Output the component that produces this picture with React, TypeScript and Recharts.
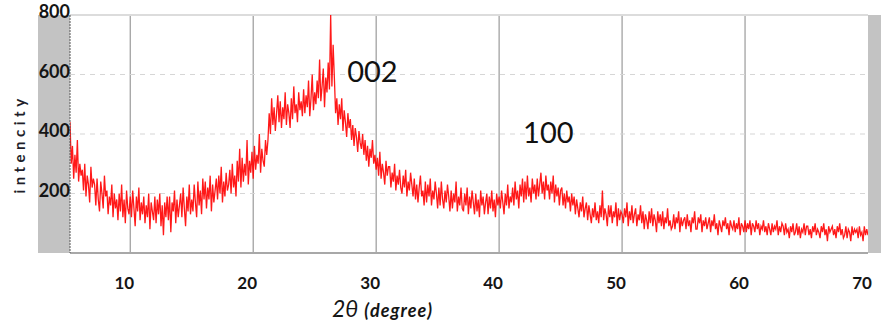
import React from 'react';
import { LineChart, Line, XAxis, YAxis, CartesianGrid, ReferenceDot } from 'recharts';

// scan starts at 5.1 deg, one reading every 0.1 deg, up to 70.0
const startAngle = 5.1;
const angleStep = 0.1;

// counts, one row per degree (d.1 … d+1.0)
const intensity = [
  440, 300, 360, 250, 330, 270, 380, 240, 300, 260, // 5
  280, 210, 300, 190, 260, 230, 170, 290, 220, 250, // 6
  230, 160, 250, 180, 140, 240, 200, 150, 260, 190, // 7
  210, 130, 190, 160, 230, 120, 200, 150, 180, 110, // 8
  200, 140, 230, 120, 180, 100, 210, 150, 130, 190, // 9
  120, 210, 150, 90, 190, 140, 220, 110, 170, 130, // 10
  190, 100, 160, 120, 200, 80, 170, 140, 110, 190, // 11
  100, 180, 130, 200, 90, 160, 60, 170, 120, 190, // 12
  110, 190, 70, 170, 140, 210, 100, 180, 120, 160, // 13
  200, 120, 220, 150, 90, 190, 140, 230, 130, 180, // 14
  140, 230, 170, 120, 240, 160, 210, 130, 250, 180, // 15
  240, 150, 220, 180, 260, 140, 230, 170, 210, 250, // 16
  180, 260, 200, 290, 170, 240, 190, 270, 210, 230, // 17
  280, 200, 300, 220, 260, 190, 310, 240, 350, 220, // 18
  320, 240, 300, 260, 380, 230, 310, 270, 340, 250, // 19
  360, 280, 330, 300, 400, 270, 350, 310, 290, 380, // 20
  330, 380, 470, 400, 520, 430, 490, 410, 470, 530, // 21
  440, 510, 420, 490, 450, 540, 430, 500, 470, 420, // 22
  520, 450, 560, 470, 500, 440, 540, 480, 510, 460, // 23
  550, 470, 530, 490, 580, 460, 520, 600, 480, 540, // 24
  500, 580, 520, 650, 510, 560, 620, 490, 590, 540, // 25
  640, 550, 800, 560, 700, 590, 470, 520, 430, 500, // 26
  450, 520, 410, 480, 440, 390, 470, 420, 450, 380, // 27
  430, 360, 420, 390, 340, 410, 370, 350, 400, 330, // 28
  380, 310, 360, 290, 350, 320, 380, 300, 330, 280, // 29
  320, 260, 340, 250, 300, 270, 230, 310, 260, 290, // 30
  290, 220, 270, 240, 300, 210, 260, 230, 280, 220, // 31
  200, 260, 220, 280, 190, 240, 210, 270, 230, 190, // 32
  250, 180, 230, 170, 220, 260, 190, 210, 160, 240, // 33
  170, 230, 190, 250, 160, 210, 180, 240, 200, 150, // 34
  220, 160, 240, 180, 150, 210, 170, 230, 190, 140, // 35
  210, 150, 200, 170, 240, 140, 190, 160, 220, 150, // 36
  140, 200, 160, 220, 130, 190, 150, 210, 170, 130, // 37
  200, 140, 180, 120, 210, 160, 190, 130, 170, 200, // 38
  130, 190, 150, 210, 140, 180, 120, 200, 160, 190, // 39
  150, 210, 170, 130, 200, 160, 230, 150, 190, 170, // 40
  220, 160, 240, 180, 210, 150, 230, 190, 250, 170, // 41
  240, 180, 260, 190, 220, 170, 250, 200, 230, 180, // 42
  250, 190, 230, 270, 200, 240, 180, 260, 210, 230, // 43
  180, 240, 200, 260, 170, 230, 190, 220, 160, 210, // 44
  220, 160, 200, 150, 210, 170, 190, 140, 200, 160, // 45
  190, 130, 180, 150, 120, 170, 140, 190, 120, 150, // 46
  170, 110, 160, 130, 100, 150, 120, 170, 110, 140, // 47
  100, 160, 120, 210, 110, 150, 130, 90, 160, 120, // 48
  160, 100, 140, 120, 170, 90, 150, 110, 140, 130, // 49
  100, 150, 120, 170, 90, 140, 110, 160, 100, 130, // 50
  150, 90, 130, 110, 160, 100, 140, 80, 130, 110, // 51
  80, 140, 100, 150, 90, 130, 110, 70, 140, 100, // 52
  130, 90, 140, 80, 120, 100, 150, 90, 110, 80, // 53
  90, 130, 80, 120, 100, 140, 70, 120, 90, 110, // 54
  120, 80, 130, 90, 110, 70, 120, 100, 140, 80, // 55
  80, 120, 100, 130, 70, 110, 90, 120, 80, 100, // 56
  120, 70, 110, 90, 130, 80, 100, 60, 110, 90, // 57
  70, 110, 90, 120, 80, 100, 60, 110, 90, 80, // 58
  110, 70, 100, 80, 120, 60, 100, 90, 70, 110, // 59
  70, 100, 80, 110, 60, 100, 90, 70, 110, 80, // 60
  100, 60, 90, 80, 110, 70, 90, 60, 100, 80, // 61
  60, 100, 70, 90, 80, 110, 60, 90, 70, 100, // 62
  90, 60, 100, 70, 80, 50, 90, 70, 100, 60, // 63
  70, 100, 60, 90, 50, 80, 70, 100, 60, 90, // 64
  90, 60, 80, 50, 90, 70, 100, 60, 80, 70, // 65
  50, 90, 70, 100, 60, 80, 40, 90, 70, 80, // 66
  90, 60, 80, 50, 90, 70, 100, 60, 80, 50, // 67
  60, 90, 50, 80, 70, 40, 90, 60, 80, 70, // 68
  80, 50, 90, 60, 70, 40, 90, 60, 80, 60, // 69
];

const xTicks = [10, 20, 30, 40, 50, 60, 70];
const yTicks = [200, 400, 600, 800];
const peakNames = ['002', '100'];
const peakAngles = [29.7, 44.0];
const peakHeights = [610, 405];

const scan = intensity.map((v, i) => ({
  angle: +(startAngle + i * angleStep).toFixed(1),
  counts: v,
}));

const FONT = 'Lato, "Open Sans", sans-serif';

const XTick = ({ x, y, payload }: any) => (
  <text x={x - 6} y={y + 28} textAnchor="middle" fontFamily={FONT} fontSize={17} fontWeight="bold" fill="#151515">
    {payload.value}
  </text>
);

const YTick = ({ x, y, payload }: any) => (
  <text x={x} y={y + 3} textAnchor="end" fontFamily={FONT} fontSize={18} fontWeight="bold" fill="#151515">
    {payload.value}
  </text>
);

const XLabel = ({ viewBox }: any) => (
  <text x={viewBox.x + 262} y={viewBox.y + 64} fontFamily={FONT} fill="#151515">
    <tspan fontSize={23} fontStyle="italic">2θ</tspan>
    <tspan dx={6} fontSize={18} fontWeight="bold" fontStyle="italic" letterSpacing={1}>(degree)</tspan>
  </text>
);

const YLabel = ({ viewBox }: any) => {
  const cx = viewBox.x - 19;
  const cy = viewBox.y + 129;
  return (
    <text
      x={cx}
      y={cy}
      transform={`rotate(-90, ${cx}, ${cy})`}
      textAnchor="middle"
      dominantBaseline="central"
      fontFamily={FONT}
      fontSize={15}
      fontWeight="bold"
      letterSpacing={4.5}
      fill="#1e1e2a"
    >
      intencity
    </text>
  );
};

export default function App() {
  return (
    <div style={{ position: 'absolute', left: 0, top: 0, width: 889, height: 327, background: '#fff' }}>
      <div style={{ position: 'absolute', left: 38, top: 15, width: 32, height: 238, background: '#c3c3c3' }} />
      <div style={{ position: 'absolute', left: 868, top: 15, width: 13, height: 238, background: '#c3c3c3' }} />
      <LineChart
        width={889}
        height={327}
        data={scan}
        margin={{ top: 15, right: 21, bottom: 24, left: 38 }}
        style={{ position: 'absolute', left: 0, top: 0 }}
      >
        <CartesianGrid horizontal={false} verticalValues={[10, 20, 30, 40, 50, 60]} stroke="#9a9a9a" strokeWidth={1.2} />
        <CartesianGrid vertical={false} horizontalValues={[200, 400, 600]} stroke="#d6d6d6" strokeDasharray="5 5" strokeWidth={1.2} />
        <CartesianGrid vertical={false} horizontalValues={[800]} stroke="#dcdcdc" strokeWidth={2} />
        <XAxis
          dataKey="angle"
          type="number"
          domain={[5.1, 70]}
          ticks={xTicks}
          allowDataOverflow
          height={50}
          tickLine={false}
          axisLine={{ stroke: '#a8a8a8', strokeWidth: 2 }}
          tick={<XTick />}
          label={<XLabel />}
        />
        <YAxis
          type="number"
          domain={[0, 800]}
          ticks={yTicks}
          allowDataOverflow
          width={32}
          tickLine={false}
          tickSize={0}
          tickMargin={0}
          axisLine={{ stroke: '#555', strokeDasharray: '2 1' }}
          tick={<YTick />}
          label={<YLabel />}
        />
        <Line
          type="linear"
          dataKey="counts"
          stroke="#ff0000"
          strokeWidth={1.3}
          strokeOpacity={0.9}
          dot={false}
          isAnimationActive={false}
        />
        {peakNames.map((name, i) => (
          <ReferenceDot
            key={name}
            x={peakAngles[i]}
            y={peakHeights[i]}
            r={1}
            fill="none"
            stroke="none"
            label={{ value: name, position: 'center', fontSize: 29, fill: '#111', fontFamily: FONT }}
          />
        ))}
      </LineChart>
    </div>
  );
}
